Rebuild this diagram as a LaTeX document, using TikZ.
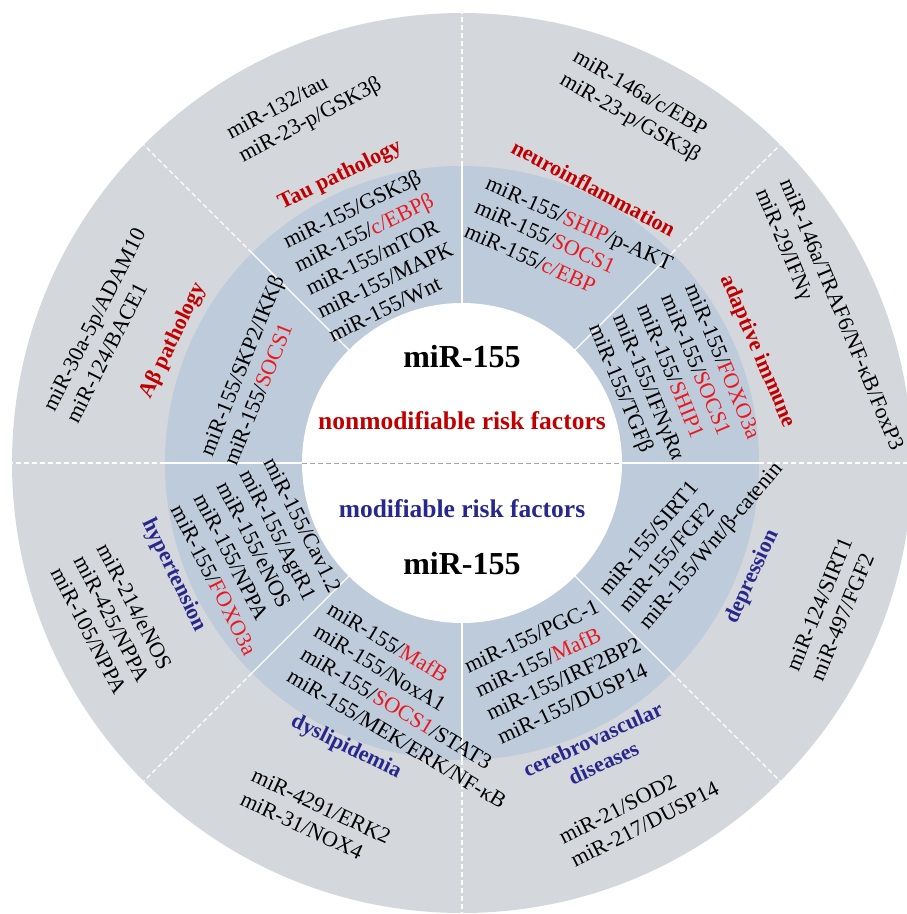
\documentclass[tikz,border=0pt]{standalone}
\usepackage{fontspec}
\setmainfont{Liberation Serif}
\usepackage{tikz}

\definecolor{ringgray}{RGB}{212,215,219}
\definecolor{ringblue}{RGB}{189,203,218}
\definecolor{labelred}{RGB}{192,0,0}
\definecolor{genered}{RGB}{235,25,30}
\definecolor{labelblue}{RGB}{40,40,140}
\newcommand{\redgene}[1]{\textcolor{genered}{#1}}

\tikzset{
  txt/.style={font=\fontsize{22}{26}\selectfont, align=left, inner sep=0pt},
  redlabel/.style={font=\bfseries\fontsize{22}{26}\selectfont, text=labelred, inner sep=0pt},
  bluelabel/.style={font=\bfseries\fontsize{22}{26}\selectfont, text=labelblue, align=center, inner sep=0pt},
  centertitle/.style={font=\bfseries\fontsize{32}{36}\selectfont, anchor=base},
  centerrisk/.style={font=\bfseries\fontsize{25.5}{30}\selectfont, anchor=base},
}

\begin{document}
\begin{tikzpicture}[x=1pt,y=1pt]
\useasboundingbox (-462,-451) rectangle (445,463);
% Rings
\fill[ringgray] (0,0) circle (450pt);
\fill[ringblue] (0,0) circle (297pt);
\fill[white] (0,0) circle (160pt);
% Sector borders
\foreach \a in {0,45,...,315} {
    \draw[white, line width=1.2pt] (\a:160) -- (\a:297);
    \draw[white, line width=1.2pt, dash pattern=on 5pt off 3pt] (\a:297) -- (\a:450);
}
\draw[gray!70, line width=1pt, dash pattern=on 5pt off 3pt] (-160,0) -- (160,0);
% Centre
\node[centertitle] (topmir) at (0,96) {miR-155};
\node[centerrisk, text=labelred] (nonmod) at (0,34) {nonmodifiable risk factors};
\node[centerrisk, text=labelblue] (mod) at (0,-54) {modifiable risk factors};
\node[centertitle] (botmir) at (0,-111) {miR-155};
% A-beta pathology
\node[txt, rotate=68] (abblue) at (156:228.5) {miR-155/SKP2/IKKβ\\miR-155/\redgene{SOCS1}};
\node[redlabel, rotate=64] (ablabel) at (157.1:313.7) {Aβ pathology};
\node[txt, rotate=63] (abgray) at (158.9:382) {miR-30a-5p/ADAM10\\miR-124/BACE1};
% Tau pathology
\node[txt, rotate=26] (taublue) at (112.7:225) {miR-155/GSK3β\\miR-155/\redgene{c/EBPβ}\\miR-155/mTOR\\miR-155/MAPK\\miR-155/Wnt};
\node[redlabel, rotate=26] (taulabel) at (113:312) {Tau pathology};
\node[txt, rotate=28] (taugray) at (114:387) {miR-132/tau\\miR-23-p/GSK3β};
% Neuroinflammation
\node[txt, rotate=-24] (neublue) at (63.7:241) {miR-155/\redgene{SHIP}/p-AKT\\miR-155/\redgene{SOCS1}\\miR-155/\redgene{c/EBP}};
\node[redlabel, rotate=-28] (neulabel) at (64.4:305) {neuroinflammation};
\node[txt, rotate=-30] (neugray) at (63.9:396) {miR-146a/c/EBP\\miR-23-p/GSK3β};
% Adaptive immune
\node[txt, rotate=-67.5] (adablue) at (21:226) {miR-155/\redgene{FOXO3a}\\miR-155/\redgene{SOCS1}\\miR-155/\redgene{SHIP1}\\miR-155/IFNγRα\\miR-155/TGFβ};
\node[redlabel, rotate=-67] (adalabel) at (20.7:316) {adaptive immune};
\node[txt, rotate=-67.5] (adagray) at (21.3:393) {miR-146a/TRAF6/NF-κB/FoxP3\\miR-29/IFNγ};
% Depression
\node[txt, rotate=50] (depblue) at (-16.2:239.5) {miR-155/SIRT1\\miR-155/FGF2\\miR-155/Wnt/β-catenin};
\node[bluelabel, rotate=65] (deplabel) at (-21.4:312) {depression};
\node[txt, rotate=67.5] (depgray) at (-21.6:397) {miR-124/SIRT1\\miR-497/FGF2};
% Cerebrovascular diseases
\node[txt, rotate=25] (cerblue) at (-64.8:225.5) {miR-155/PGC-1\\miR-155/\redgene{MafB}\\miR-155/IRF2BP2\\miR-155/DUSP14};
\node[bluelabel, rotate=24.5] (cerlabel) at (-64.7:318.5) {cerebrovascular\\diseases};
\node[txt, rotate=27] (cergray) at (-63.2:392) {miR-21/SOD2\\miR-217/DUSP14};
% Dyslipidemia
\node[txt, rotate=-31] (dysblue) at (-100.5:246) {miR-155/\redgene{MafB}\\miR-155/NoxA1\\miR-155/\redgene{SOCS1}/STAT3\\miR-155/MEK/ERK/NF-κB};
\node[bluelabel, rotate=-26] (dyslabel) at (-112.2:307) {dyslipidemia};
\node[txt, rotate=-25] (dysgray) at (-112.4:384) {miR-4291/ERK2\\miR-31/NOX4};
% Hypertension
\node[txt, rotate=-63] (hypblue) at (204.9:222) {miR-155/Cav1.2\\miR-155/AgtR1\\miR-155/eNOS\\miR-155/NPPA\\miR-155/\redgene{FOXO3a}};
\node[bluelabel, rotate=-64] (hyplabel) at (201.3:309) {hypertension};
\node[txt, rotate=-62.5] (hypgray) at (204:383) {miR-214/eNOS\\miR-425/NPPA\\miR-105/NPPA};
\end{tikzpicture}
\end{document}
